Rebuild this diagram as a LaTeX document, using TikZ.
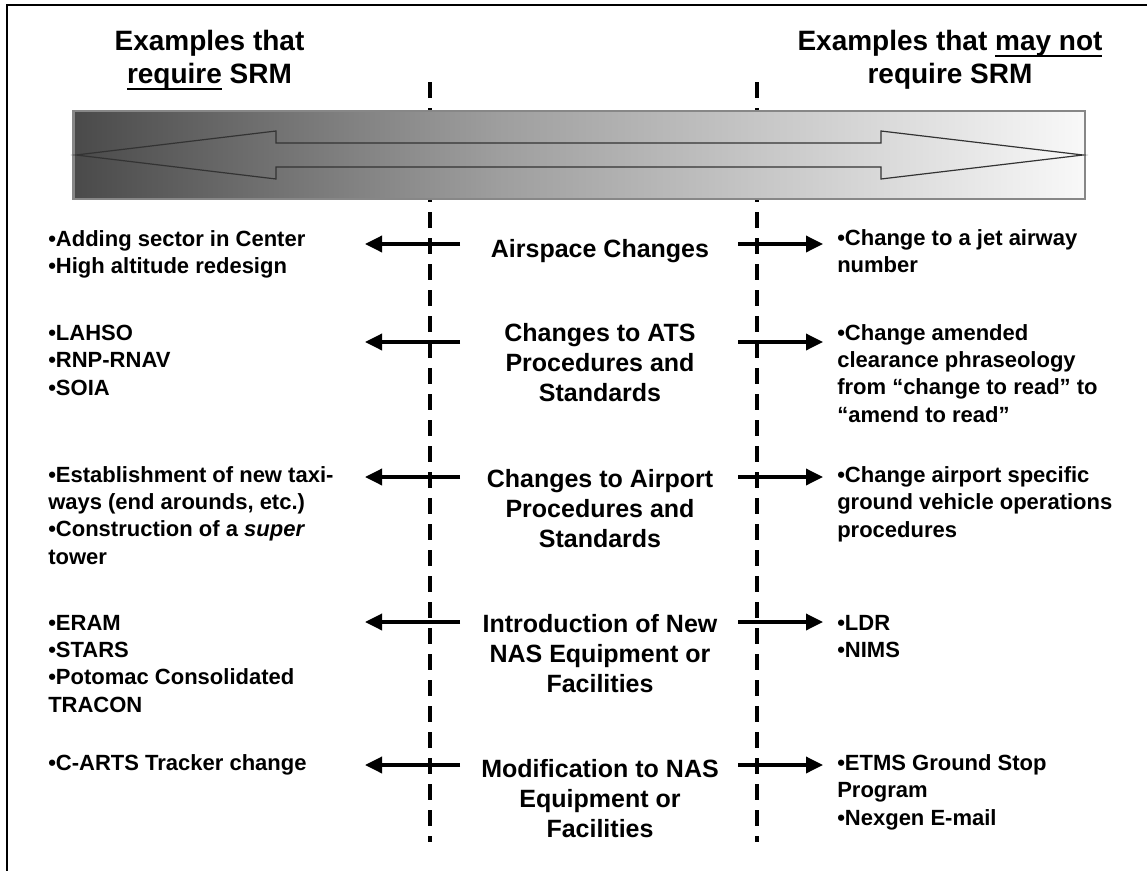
\documentclass[tikz,border=0pt]{standalone}
\usepackage{fontspec}
\setmainfont{Liberation Sans}
\usetikzlibrary{arrows.meta}
\definecolor{gradA}{gray}{0.29}
\definecolor{gradB}{gray}{0.62}
\definecolor{gradC}{gray}{0.975}
\definecolor{boxgray}{gray}{0.53}
\definecolor{arrowline}{gray}{0.2}
\pgfdeclarehorizontalshading{srmgrad}{100bp}{color(0bp)=(gradA); color(25bp)=(gradA); color(46bp)=(gradB); color(75bp)=(gradC); color(100bp)=(gradC)}
\newcommand{\srmul}[1]{\setbox0\hbox{#1}\rlap{\rule[-5.6pt]{\wd0}{1.9pt}}\box0\relax}
\begin{document}
\begin{tikzpicture}[x=0.75pt,y=-0.75pt,
  body/.style={font=\bfseries\fontsize{16.5pt}{20.6pt}\selectfont, align=left, inner sep=0pt, anchor=base west},
  centre/.style={font=\bfseries\fontsize{18.75pt}{22.5pt}\selectfont, align=center, inner sep=0pt, anchor=base},
  head/.style={font=\bfseries\fontsize{21pt}{24.75pt}\selectfont, align=center, inner sep=0pt, anchor=base},
  conn/.style={line width=2.6pt, -{Triangle[length=12.75pt,width=12pt]}},
  divider/.style={line width=3pt, dash pattern=on 12pt off 7.5pt},
  framestyle/.style={line width=1.8pt},
  bigarrow/.style={draw=arrowline, line width=0.9pt, line join=miter}]
\useasboundingbox (0,0) rectangle (1147,871);
\fill[white] (0,0) rectangle (1147,871);
% frame (top and left edges)
\coordinate (ftl) at (7,5);
\coordinate (ftr) at (1147,5);
\coordinate (fbl) at (7,871);
\draw[framestyle] (ftr) -- (ftl) -- (fbl);
% headings (anchored at the baseline of their last line)
\node[head] (hl) at (209.5,83) {Examples that\\\srmul{require} SRM};
\node[head] (hr) at (950,83) {Examples that \srmul{may not}\\require SRM};
% dividers
\coordinate (d1t) at (430,82);
\coordinate (d1b) at (430,842);
\coordinate (d2t) at (757,82);
\coordinate (d2b) at (757,842);
\draw[divider] (d1t) -- (d1b);
\draw[divider] (d2t) -- (d2b);
% gradient bar
\shadedraw[shading=srmgrad, draw=boxgray, line width=1.9pt] (73.5,111) rectangle (1085,199);
\draw[bigarrow] (76,155) -- (276,131) -- (276,143) -- (881,143) -- (881,131) -- (1083,155)
  -- (881,179) -- (881,167) -- (276,167) -- (276,179) -- cycle;
% row 1
\node[body] (l1) at (48,273.5) {•Adding sector in Center\\•High altitude redesign};
\node[centre] (c1) at (600,257) {Airspace Changes};
\node[body] (r1) at (837,272.5) {•Change to a jet airway\\number};
\coordinate (a1ls) at (460,244); \coordinate (a1le) at (365,244);
\coordinate (a1rs) at (738,244); \coordinate (a1re) at (823,244);
\draw[conn] (a1ls) -- (a1le);
\draw[conn] (a1rs) -- (a1re);
% row 2
\node[body] (l2) at (48,395) {•LAHSO\\•RNP-RNAV\\•SOIA};
\node[centre] (c2) at (600,401) {Changes to ATS\\Procedures and\\Standards};
\node[body] (r2) at (837,422.4) {•Change amended\\clearance phraseology\\from “change to read” to\\“amend to read”};
\coordinate (a2ls) at (460,342); \coordinate (a2le) at (365,342);
\coordinate (a2rs) at (738,342); \coordinate (a2re) at (823,342);
\draw[conn] (a2ls) -- (a2le);
\draw[conn] (a2rs) -- (a2re);
% row 3
\node[body] (l3) at (48,564.4) {•Establishment of new taxi-\\ways (end arounds, etc.)\\•Construction of a \textit{super}\\tower};
\node[centre] (c3) at (600,547) {Changes to Airport\\Procedures and\\Standards};
\node[body] (r3) at (837,537) {•Change airport specific\\ground vehicle operations\\procedures};
\coordinate (a3ls) at (460,477); \coordinate (a3le) at (365,477);
\coordinate (a3rs) at (738,477); \coordinate (a3re) at (823,477);
\draw[conn] (a3ls) -- (a3le);
\draw[conn] (a3rs) -- (a3re);
% row 4
\node[body] (l4) at (48,712.4) {•ERAM\\•STARS\\•Potomac Consolidated\\TRACON};
\node[centre] (c4) at (600,692) {Introduction of New\\NAS Equipment or\\Facilities};
\node[body] (r4) at (837,657.5) {•LDR\\•NIMS};
\coordinate (a4ls) at (460,622); \coordinate (a4le) at (365,622);
\coordinate (a4rs) at (738,622); \coordinate (a4re) at (823,622);
\draw[conn] (a4ls) -- (a4le);
\draw[conn] (a4rs) -- (a4re);
% row 5
\node[body] (l5) at (48,770) {•C-ARTS Tracker change};
\node[centre] (c5) at (600,837) {Modification to NAS\\Equipment or\\Facilities};
\node[body] (r5) at (837,825) {•ETMS Ground Stop\\Program\\•Nexgen E-mail};
\coordinate (a5ls) at (460,765); \coordinate (a5le) at (365,765);
\coordinate (a5rs) at (738,765); \coordinate (a5re) at (823,765);
\draw[conn] (a5ls) -- (a5le);
\draw[conn] (a5rs) -- (a5re);
\end{tikzpicture}
\end{document}
